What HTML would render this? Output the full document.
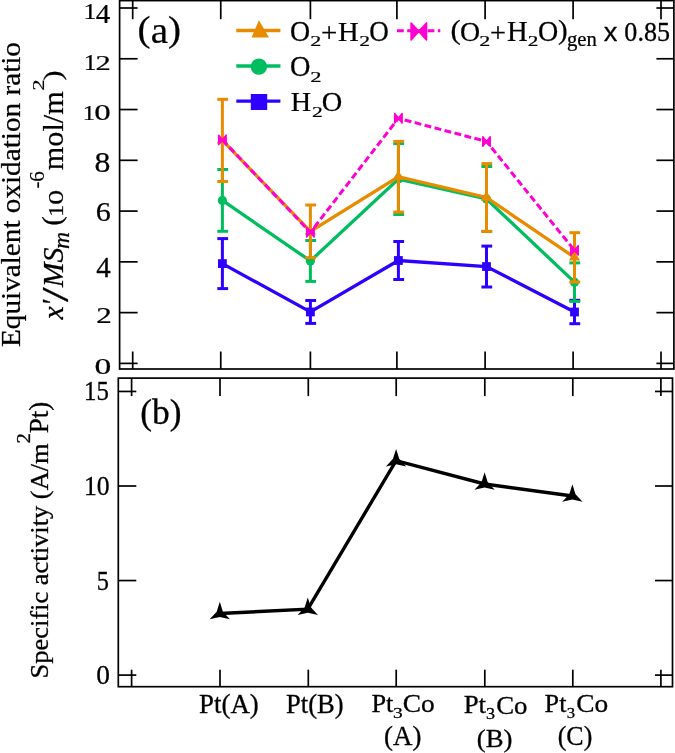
<!DOCTYPE html>
<html><head><meta charset="utf-8"><style>
html,body{margin:0;padding:0;background:#fff;}
body{width:675px;height:753px;overflow:hidden;position:relative;}
svg{position:absolute;left:0;top:0;will-change:transform;}
text{font-family:"Liberation Serif",serif;fill:#000;font-kerning:none;}
</style></head><body>
<svg width="675" height="753" viewBox="0 0 675 753">
<g stroke="#000" stroke-width="1.7" fill="none">
<rect x="119.6" y="0.6" width="554.3" height="368.4"/>
<line x1="119.6" y1="363.40" x2="137.6" y2="363.40"/>
<line x1="673.9" y1="363.40" x2="656.4" y2="363.40"/>
<line x1="119.6" y1="312.63" x2="137.6" y2="312.63"/>
<line x1="673.9" y1="312.63" x2="656.4" y2="312.63"/>
<line x1="119.6" y1="261.86" x2="137.6" y2="261.86"/>
<line x1="673.9" y1="261.86" x2="656.4" y2="261.86"/>
<line x1="119.6" y1="211.08" x2="137.6" y2="211.08"/>
<line x1="673.9" y1="211.08" x2="656.4" y2="211.08"/>
<line x1="119.6" y1="160.31" x2="137.6" y2="160.31"/>
<line x1="673.9" y1="160.31" x2="656.4" y2="160.31"/>
<line x1="119.6" y1="109.54" x2="137.6" y2="109.54"/>
<line x1="673.9" y1="109.54" x2="656.4" y2="109.54"/>
<line x1="119.6" y1="58.77" x2="137.6" y2="58.77"/>
<line x1="673.9" y1="58.77" x2="656.4" y2="58.77"/>
<line x1="119.6" y1="8.00" x2="137.6" y2="8.00"/>
<line x1="673.9" y1="8.00" x2="656.4" y2="8.00"/>
<line x1="132.7" y1="0.6" x2="132.7" y2="19.200000000000003"/>
<line x1="132.7" y1="369.0" x2="132.7" y2="351.5"/>
<line x1="220.75" y1="0.6" x2="220.75" y2="19.200000000000003"/>
<line x1="220.75" y1="369.0" x2="220.75" y2="351.5"/>
<line x1="310.4" y1="0.6" x2="310.4" y2="19.200000000000003"/>
<line x1="310.4" y1="369.0" x2="310.4" y2="351.5"/>
<line x1="396.9" y1="0.6" x2="396.9" y2="19.200000000000003"/>
<line x1="396.9" y1="369.0" x2="396.9" y2="351.5"/>
<line x1="485.1" y1="0.6" x2="485.1" y2="19.200000000000003"/>
<line x1="485.1" y1="369.0" x2="485.1" y2="351.5"/>
<line x1="573.1" y1="0.6" x2="573.1" y2="19.200000000000003"/>
<line x1="573.1" y1="369.0" x2="573.1" y2="351.5"/>
<line x1="661.0" y1="0.6" x2="661.0" y2="19.200000000000003"/>
<line x1="661.0" y1="369.0" x2="661.0" y2="351.5"/>
</g>
<g stroke="#2D00FF" stroke-width="3.0" fill="none">
<line x1="222.4" y1="238.6" x2="222.4" y2="288.6"/>
<line x1="217.3" y1="238.6" x2="228.10000000000002" y2="238.6"/>
<line x1="217.3" y1="288.6" x2="228.10000000000002" y2="288.6"/>
<line x1="310.4" y1="300.5" x2="310.4" y2="323.4"/>
<line x1="305.3" y1="300.5" x2="316.09999999999997" y2="300.5"/>
<line x1="305.3" y1="323.4" x2="316.09999999999997" y2="323.4"/>
<line x1="398.4" y1="241.5" x2="398.4" y2="279.5"/>
<line x1="393.3" y1="241.5" x2="404.09999999999997" y2="241.5"/>
<line x1="393.3" y1="279.5" x2="404.09999999999997" y2="279.5"/>
<line x1="486.5" y1="246.1" x2="486.5" y2="287.0"/>
<line x1="481.40000000000003" y1="246.1" x2="492.2" y2="246.1"/>
<line x1="481.40000000000003" y1="287.0" x2="492.2" y2="287.0"/>
<line x1="574.5" y1="300.3" x2="574.5" y2="323.7"/>
<line x1="569.4" y1="300.3" x2="580.1999999999999" y2="300.3"/>
<line x1="569.4" y1="323.7" x2="580.1999999999999" y2="323.7"/>
</g>
<polyline points="222.4,263.6 310.4,311.95 398.4,260.5 486.5,266.55 574.5,312.0" stroke-linejoin="miter" stroke="#2D00FF" stroke-width="3.3" fill="none"/>
<g fill="#2D00FF">
<rect x="218.00" y="259.20" width="8.8" height="8.8"/>
<rect x="306.00" y="307.55" width="8.8" height="8.8"/>
<rect x="394.00" y="256.10" width="8.8" height="8.8"/>
<rect x="482.10" y="262.15" width="8.8" height="8.8"/>
<rect x="570.10" y="307.60" width="8.8" height="8.8"/>
</g>
<g stroke="#00BE5F" stroke-width="3.0" fill="none">
<line x1="222.4" y1="169.5" x2="222.4" y2="231.3"/>
<line x1="217.3" y1="169.5" x2="228.10000000000002" y2="169.5"/>
<line x1="217.3" y1="231.3" x2="228.10000000000002" y2="231.3"/>
<line x1="310.4" y1="240.5" x2="310.4" y2="281.4"/>
<line x1="305.3" y1="240.5" x2="316.09999999999997" y2="240.5"/>
<line x1="305.3" y1="281.4" x2="316.09999999999997" y2="281.4"/>
<line x1="398.4" y1="143.6" x2="398.4" y2="214.5"/>
<line x1="393.3" y1="143.6" x2="404.09999999999997" y2="143.6"/>
<line x1="393.3" y1="214.5" x2="404.09999999999997" y2="214.5"/>
<line x1="486.5" y1="166.5" x2="486.5" y2="231.4"/>
<line x1="481.40000000000003" y1="166.5" x2="492.2" y2="166.5"/>
<line x1="481.40000000000003" y1="231.4" x2="492.2" y2="231.4"/>
<line x1="574.5" y1="262.9" x2="574.5" y2="301.4"/>
<line x1="569.4" y1="262.9" x2="580.1999999999999" y2="262.9"/>
<line x1="569.4" y1="301.4" x2="580.1999999999999" y2="301.4"/>
</g>
<polyline points="222.4,200.4 310.4,260.95 398.4,179.05 486.5,198.95 574.5,282.15" stroke-linejoin="miter" stroke="#00BE5F" stroke-width="3.3" fill="none"/>
<g fill="#00BE5F">
<circle cx="222.4" cy="200.4" r="4.6"/>
<circle cx="310.4" cy="260.95" r="4.6"/>
<circle cx="398.4" cy="179.05" r="4.6"/>
<circle cx="486.5" cy="198.95" r="4.6"/>
<circle cx="574.5" cy="282.15" r="4.6"/>
</g>
<g stroke="#E88B00" stroke-width="3.0" fill="none">
<line x1="222.4" y1="99.3" x2="222.4" y2="181.5"/>
<line x1="217.3" y1="99.3" x2="228.10000000000002" y2="99.3"/>
<line x1="217.3" y1="181.5" x2="228.10000000000002" y2="181.5"/>
<line x1="310.4" y1="205.0" x2="310.4" y2="257.7"/>
<line x1="305.3" y1="205.0" x2="316.09999999999997" y2="205.0"/>
<line x1="305.3" y1="257.7" x2="316.09999999999997" y2="257.7"/>
<line x1="398.4" y1="141.4" x2="398.4" y2="212.1"/>
<line x1="393.3" y1="141.4" x2="404.09999999999997" y2="141.4"/>
<line x1="393.3" y1="212.1" x2="404.09999999999997" y2="212.1"/>
<line x1="486.5" y1="163.6" x2="486.5" y2="231.4"/>
<line x1="481.40000000000003" y1="163.6" x2="492.2" y2="163.6"/>
<line x1="481.40000000000003" y1="231.4" x2="492.2" y2="231.4"/>
<line x1="574.5" y1="232.7" x2="574.5" y2="282.1"/>
<line x1="569.4" y1="232.7" x2="580.1999999999999" y2="232.7"/>
<line x1="569.4" y1="282.1" x2="580.1999999999999" y2="282.1"/>
</g>
<polyline points="222.4,140.4 310.4,231.35 398.4,176.75 486.5,197.5 574.5,257.4" stroke-linejoin="miter" stroke="#E88B00" stroke-width="3.3" fill="none"/>
<g fill="#E88B00">
<polygon points="216.80,143.60 228.00,143.60 222.40,134.00"/>
<polygon points="304.80,234.55 316.00,234.55 310.40,224.95"/>
<polygon points="392.80,179.95 404.00,179.95 398.40,170.35"/>
<polygon points="480.90,200.70 492.10,200.70 486.50,191.10"/>
<polygon points="568.90,260.60 580.10,260.60 574.50,251.00"/>
</g>
<polyline points="222.4,139.9 310.4,232.3 398.4,118.3 486.5,141.5 574.5,250.4" fill="none" stroke="#FF00D2" stroke-width="3" stroke-dasharray="6.9 3.4"/>
<g fill="#FF00D2" stroke="#FF00D2" stroke-width="1.6" stroke-linejoin="round"><polygon points="218.70,135.20 222.40,139.90 226.10,135.20 226.10,144.60 222.40,139.90 218.70,144.60"/><polygon points="306.70,227.60 310.40,232.30 314.10,227.60 314.10,237.00 310.40,232.30 306.70,237.00"/><polygon points="394.70,113.60 398.40,118.30 402.10,113.60 402.10,123.00 398.40,118.30 394.70,123.00"/><polygon points="482.80,136.80 486.50,141.50 490.20,136.80 490.20,146.20 486.50,141.50 482.80,146.20"/><polygon points="570.80,245.70 574.50,250.40 578.20,245.70 578.20,255.10 574.50,250.40 570.80,255.10"/></g>
<g stroke-width="3.3">
<line x1="236.3" y1="30.5" x2="280.4" y2="30.5" stroke="#E88B00"/>
<line x1="236.3" y1="66" x2="280.4" y2="66" stroke="#00BE5F"/>
<line x1="236.3" y1="101.1" x2="280.4" y2="101.1" stroke="#2D00FF"/>
<line x1="397" y1="30.75" x2="440.3" y2="30.75" stroke="#FF00D2" stroke-width="3" stroke-dasharray="6.8 3.4"/>
</g>
<polygon fill="#E88B00" points="251.5,37.5 269,37.5 258.9,20.3"/>
<circle fill="#00BE5F" cx="258.9" cy="66.6" r="8.2"/>
<rect fill="#2D00FF" x="250.8" y="94" width="16.4" height="16"/>
<g fill="#FF00D2" stroke="#FF00D2" stroke-width="1.6" stroke-linejoin="round"><polygon points="411.10,22.95 418.80,31.40 426.50,22.95 426.50,39.85 418.80,31.40 411.10,39.85"/></g>
<g stroke="#000" stroke-width="1.7" fill="none">
<rect x="118.3" y="378.1" width="554.2" height="308.6"/>
<line x1="118.3" y1="675.10" x2="136.3" y2="675.10"/>
<line x1="672.5" y1="675.10" x2="655.0" y2="675.10"/>
<line x1="118.3" y1="580.55" x2="136.3" y2="580.55"/>
<line x1="672.5" y1="580.55" x2="655.0" y2="580.55"/>
<line x1="118.3" y1="486.00" x2="136.3" y2="486.00"/>
<line x1="672.5" y1="486.00" x2="655.0" y2="486.00"/>
<line x1="118.3" y1="391.45" x2="136.3" y2="391.45"/>
<line x1="672.5" y1="391.45" x2="655.0" y2="391.45"/>
<line x1="131.6" y1="378.1" x2="131.6" y2="396.1"/>
<line x1="131.6" y1="686.7" x2="131.6" y2="669.7"/>
<line x1="220.0" y1="378.1" x2="220.0" y2="396.1"/>
<line x1="220.0" y1="686.7" x2="220.0" y2="669.7"/>
<line x1="308.3" y1="378.1" x2="308.3" y2="396.1"/>
<line x1="308.3" y1="686.7" x2="308.3" y2="669.7"/>
<line x1="396.2" y1="378.1" x2="396.2" y2="396.1"/>
<line x1="396.2" y1="686.7" x2="396.2" y2="669.7"/>
<line x1="484.8" y1="378.1" x2="484.8" y2="396.1"/>
<line x1="484.8" y1="686.7" x2="484.8" y2="669.7"/>
<line x1="572.8" y1="378.1" x2="572.8" y2="396.1"/>
<line x1="572.8" y1="686.7" x2="572.8" y2="669.7"/>
<line x1="660.9" y1="378.1" x2="660.9" y2="396.1"/>
<line x1="660.9" y1="686.7" x2="660.9" y2="669.7"/>
</g>
<polyline fill="none" stroke="#000" stroke-width="3.4" points="219.8,613.5 307.8,609.1 396.1,460.6 484.6,484.0 572.4,496.0"/>
<g fill="#000"><polygon points="219.80,601.80 222.92,611.70 229.93,619.35 219.80,617.10 209.67,619.35 216.68,611.70"/><polygon points="307.80,597.40 310.92,607.30 317.93,614.95 307.80,612.70 297.67,614.95 304.68,607.30"/><polygon points="396.10,448.90 399.22,458.80 406.23,466.45 396.10,464.20 385.97,466.45 392.98,458.80"/><polygon points="484.60,472.30 487.72,482.20 494.73,489.85 484.60,487.60 474.47,489.85 481.48,482.20"/><polygon points="572.40,484.30 575.52,494.20 582.53,501.85 572.40,499.60 562.27,501.85 569.28,494.20"/></g>
<text transform="translate(83.566,18.575) scale(0.25707,0.22040)" style="font-family:'Liberation Serif',serif" font-size="100"  stroke="#000" stroke-width="1.050">1</text>
<text transform="translate(95.660,22.675) scale(0.28934,0.28335)" style="font-family:'Liberation Serif',serif" font-size="100"  stroke="#000" stroke-width="0.873">4</text>
<text transform="translate(83.691,69.875) scale(0.25422,0.22040)" style="font-family:'Liberation Serif',serif" font-size="100"  stroke="#000" stroke-width="1.056">1</text>
<text transform="translate(95.582,69.875) scale(0.30558,0.21975)" style="font-family:'Liberation Serif',serif" font-size="100"  stroke="#000" stroke-width="0.965">2</text>
<text transform="translate(82.665,119.675) scale(0.24570,0.21737)" style="font-family:'Liberation Serif',serif" font-size="100"  stroke="#000" stroke-width="1.082">1</text>
<text transform="translate(94.171,120.354) scale(0.32914,0.22599)" style="font-family:'Liberation Serif',serif" font-size="100"  stroke="#000" stroke-width="0.917">0</text>
<text transform="translate(94.516,171.885) scale(0.31735,0.29712)" style="font-family:'Liberation Serif',serif" font-size="100"  stroke="#000" stroke-width="0.814">8</text>
<text transform="translate(95.633,221.000) scale(0.30076,0.28205)" style="font-family:'Liberation Serif',serif" font-size="100"  stroke="#000" stroke-width="0.858">6</text>
<text transform="translate(96.260,277.075) scale(0.28934,0.29094)" style="font-family:'Liberation Serif',serif" font-size="100"  stroke="#000" stroke-width="0.862">4</text>
<text transform="translate(96.160,322.675) scale(0.31057,0.22277)" style="font-family:'Liberation Serif',serif" font-size="100"  stroke="#000" stroke-width="0.950">2</text>
<text transform="translate(94.444,374.257) scale(0.33622,0.22303)" style="font-family:'Liberation Serif',serif" font-size="100"  stroke="#000" stroke-width="0.913">0</text>
<text transform="translate(83.965,400.292) scale(0.24855,0.26421)" style="font-family:'Liberation Serif',serif" font-size="100"  stroke="#000" stroke-width="1.171">15</text>
<text transform="translate(83.887,494.684) scale(0.25743,0.27267)" style="font-family:'Liberation Serif',serif" font-size="100"  stroke="#000" stroke-width="1.132">10</text>
<text transform="translate(96.636,589.988) scale(0.24328,0.26785)" style="font-family:'Liberation Serif',serif" font-size="100"  stroke="#000" stroke-width="1.175">5</text>
<text transform="translate(96.208,684.185) scale(0.27370,0.27119)" style="font-family:'Liberation Serif',serif" font-size="100"  stroke="#000" stroke-width="1.101">0</text>
<text transform="translate(137.505,41.374) scale(0.39130,0.35236)" style="font-family:'Liberation Serif',serif" font-size="100"  stroke="#000" stroke-width="0.673">(</text>
<text transform="translate(150.650,43.401) scale(0.39112,0.38309)" style="font-family:'Liberation Serif',serif" font-size="100"  stroke="#000" stroke-width="0.646">a</text>
<text transform="translate(167.964,41.374) scale(0.39130,0.35236)" style="font-family:'Liberation Serif',serif" font-size="100"  stroke="#000" stroke-width="0.673">)</text>
<text transform="translate(140.293,424.072) scale(0.35432,0.36063)" style="font-family:'Liberation Serif',serif" font-size="100"  stroke="#000" stroke-width="0.839">(b)</text>
<text transform="translate(289.981,40.689) scale(0.27885,0.29247)" style="font-family:'Liberation Serif',serif" font-size="100"  stroke="#000" stroke-width="0.875">O</text>
<text transform="translate(310.355,46.275) scale(0.22076,0.15330)" style="font-family:'Liberation Serif',serif" font-size="100"  stroke="#000" stroke-width="1.359">2</text>
<text transform="translate(320.985,42.288) scale(0.28904,0.27371)" style="font-family:'Liberation Serif',serif" font-size="100"  stroke="#000" stroke-width="0.889">+</text>
<text transform="translate(337.999,40.575) scale(0.28687,0.28177)" style="font-family:'Liberation Serif',serif" font-size="100"  stroke="#000" stroke-width="0.879">H</text>
<text transform="translate(359.177,45.975) scale(0.21578,0.14877)" style="font-family:'Liberation Serif',serif" font-size="100"  stroke="#000" stroke-width="1.395">2</text>
<text transform="translate(369.313,40.689) scale(0.27104,0.29247)" style="font-family:'Liberation Serif',serif" font-size="100"  stroke="#000" stroke-width="0.888">O</text>
<text transform="translate(289.962,76.092) scale(0.28353,0.28949)" style="font-family:'Liberation Serif',serif" font-size="100"  stroke="#000" stroke-width="0.873">O</text>
<text transform="translate(310.233,81.775) scale(0.22575,0.15481)" style="font-family:'Liberation Serif',serif" font-size="100"  stroke="#000" stroke-width="1.337">2</text>
<text transform="translate(290.812,110.675) scale(0.28235,0.27872)" style="font-family:'Liberation Serif',serif" font-size="100"  stroke="#000" stroke-width="0.891">H</text>
<text transform="translate(312.077,116.575) scale(0.21578,0.15481)" style="font-family:'Liberation Serif',serif" font-size="100"  stroke="#000" stroke-width="1.368">2</text>
<text transform="translate(321.862,110.898) scale(0.28353,0.28353)" style="font-family:'Liberation Serif',serif" font-size="100"  stroke="#000" stroke-width="0.882">O</text>
<text transform="translate(450.465,39.205) scale(0.30954,0.26634)" style="font-family:'Liberation Serif',serif" font-size="100"  stroke="#000" stroke-width="0.871">(</text>
<text transform="translate(459.981,40.500) scale(0.27885,0.28205)" style="font-family:'Liberation Serif',serif" font-size="100"  stroke="#000" stroke-width="0.891">O</text>
<text transform="translate(479.155,46.375) scale(0.22076,0.13668)" style="font-family:'Liberation Serif',serif" font-size="100"  stroke="#000" stroke-width="1.439">2</text>
<text transform="translate(490.018,42.452) scale(0.28259,0.28015)" style="font-family:'Liberation Serif',serif" font-size="100"  stroke="#000" stroke-width="0.889">+</text>
<text transform="translate(506.899,40.775) scale(0.28687,0.28483)" style="font-family:'Liberation Serif',serif" font-size="100"  stroke="#000" stroke-width="0.875">H</text>
<text transform="translate(527.788,46.275) scale(0.21328,0.13819)" style="font-family:'Liberation Serif',serif" font-size="100"  stroke="#000" stroke-width="1.456">2</text>
<text transform="translate(537.975,40.891) scale(0.28041,0.29098)" style="font-family:'Liberation Serif',serif" font-size="100"  stroke="#000" stroke-width="0.875">O</text>
<text transform="translate(557.990,38.828) scale(0.29007,0.26524)" style="font-family:'Liberation Serif',serif" font-size="100"  stroke="#000" stroke-width="0.901">)</text>
<text transform="translate(566.934,46.138) scale(0.20747,0.20096)" style="font-family:'Liberation Serif',serif" font-size="100"  stroke="#000" stroke-width="1.224">gen</text>
<text transform="translate(603.745,40.650) scale(0.27195,0.26310)" style="font-family:'Liberation Sans',sans-serif" font-size="100"  stroke="#000" stroke-width="1.122">x</text>
<text transform="translate(624.357,40.566) scale(0.26063,0.27091)" style="font-family:'Liberation Serif',serif" font-size="100"  stroke="#000" stroke-width="1.129">0.85</text>
<text transform="translate(19.900,347.042) rotate(-90) scale(0.29214,0.28000)" style="font-family:'Liberation Serif',serif" font-size="100"  stroke="#000" stroke-width="0.874">Equivalent oxidation ratio</text>
<text transform="translate(62.875,319.509) rotate(-90) scale(0.29973,0.29957)" style="font-family:'Liberation Serif',serif;font-style:italic" font-size="100"  stroke="#000" stroke-width="0.834">x</text>
<text transform="translate(62.480,304.291) rotate(-90) scale(0.28722,0.30017)" style="font-family:'Liberation Serif',serif" font-size="100"  stroke="#000" stroke-width="0.851">′</text>
<text transform="translate(67.509,301.875) rotate(-90) scale(0.53090,0.37447)" style="font-family:'Liberation Serif',serif" font-size="100"  stroke="#000" stroke-width="0.561">/</text>
<text transform="translate(62.589,287.226) rotate(-90) scale(0.29768,0.29247)" style="font-family:'Liberation Serif',serif;font-style:italic" font-size="100"  stroke="#000" stroke-width="0.847">MS</text>
<text transform="translate(68.875,249.031) rotate(-90) scale(0.23679,0.22178)" style="font-family:'Liberation Serif',serif;font-style:italic" font-size="100"  stroke="#000" stroke-width="1.091">m</text>
<text transform="translate(61.228,225.850) rotate(-90) scale(0.29007,0.26524)" style="font-family:'Liberation Serif',serif" font-size="100"  stroke="#000" stroke-width="0.901">(</text>
<text transform="translate(62.875,217.059) rotate(-90) scale(0.24854,0.21889)" style="font-family:'Liberation Serif',serif" font-size="100"  stroke="#000" stroke-width="1.072">1</text>
<text transform="translate(62.662,205.039) rotate(-90) scale(0.30555,0.21858)" style="font-family:'Liberation Serif',serif" font-size="100"  stroke="#000" stroke-width="0.967">0</text>
<text transform="translate(43.138,188.604) rotate(-90) scale(0.20980,0.20748)" style="font-family:'Liberation Serif',serif" font-size="100"  stroke="#000" stroke-width="0.719">-</text>
<text transform="translate(43.621,181.625) rotate(-90) scale(0.20948,0.20912)" style="font-family:'Liberation Serif',serif" font-size="100"  stroke="#000" stroke-width="0.717">6</text>
<text transform="translate(62.700,170.134) rotate(-90) scale(0.30217,0.29400)" style="font-family:'Liberation Serif',serif" font-size="100"  stroke="#000" stroke-width="0.839">mol/m</text>
<text transform="translate(43.925,90.639) rotate(-90) scale(0.23074,0.16387)" style="font-family:'Liberation Serif',serif" font-size="100"  stroke="#000" stroke-width="0.771">2</text>
<text transform="translate(60.999,80.547) rotate(-90) scale(0.30175,0.26193)" style="font-family:'Liberation Serif',serif" font-size="100"  stroke="#000" stroke-width="0.889">)</text>
<text transform="translate(48.043,678.522) rotate(-90) scale(0.26489,0.25980)" style="font-family:'Liberation Serif',serif" font-size="100"  stroke="#000" stroke-width="1.144">Specific activity (A/m</text>
<text transform="translate(30.350,443.571) rotate(-90) scale(0.20954,0.19785)" style="font-family:'Liberation Serif',serif" font-size="100"  stroke="#000" stroke-width="1.473">2</text>
<text transform="translate(48.039,433.332) rotate(-90) scale(0.27142,0.26358)" style="font-family:'Liberation Serif',serif" font-size="100"  stroke="#000" stroke-width="1.122">Pt)</text>
<text transform="translate(199.077,713.215) scale(0.26845,0.26468)" style="font-family:'Liberation Serif',serif" font-size="100"  stroke="#000" stroke-width="1.125">Pt(A)</text>
<text transform="translate(286.084,713.445) scale(0.26597,0.26799)" style="font-family:'Liberation Serif',serif" font-size="100"  stroke="#000" stroke-width="1.124">Pt(B)</text>
<text transform="translate(371.493,711.910) scale(0.26272,0.24528)" style="font-family:'Liberation Serif',serif" font-size="100"  stroke="#000" stroke-width="1.182">Pt</text>
<text transform="translate(393.123,717.506) scale(0.19366,0.14735)" style="font-family:'Liberation Serif',serif" font-size="100"  stroke="#000" stroke-width="1.776">3</text>
<text transform="translate(402.826,712.406) scale(0.27392,0.25005)" style="font-family:'Liberation Serif',serif" font-size="100"  stroke="#000" stroke-width="1.146">Co</text>
<text transform="translate(384.067,745.392) scale(0.26917,0.26579)" style="font-family:'Liberation Serif',serif" font-size="100"  stroke="#000" stroke-width="1.122">(A)</text>
<text transform="translate(463.675,713.206) scale(0.26898,0.24979)" style="font-family:'Liberation Serif',serif" font-size="100"  stroke="#000" stroke-width="1.157">Pt</text>
<text transform="translate(485.881,719.296) scale(0.18156,0.15777)" style="font-family:'Liberation Serif',serif" font-size="100"  stroke="#000" stroke-width="1.773">3</text>
<text transform="translate(496.149,713.696) scale(0.26841,0.26047)" style="font-family:'Liberation Serif',serif" font-size="100"  stroke="#000" stroke-width="1.135">Co</text>
<text transform="translate(476.771,746.650) scale(0.26825,0.25366)" style="font-family:'Liberation Serif',serif" font-size="100"  stroke="#000" stroke-width="1.150">(B)</text>
<text transform="translate(544.597,711.903) scale(0.26147,0.25280)" style="font-family:'Liberation Serif',serif" font-size="100"  stroke="#000" stroke-width="1.167">Pt</text>
<text transform="translate(566.851,717.710) scale(0.16704,0.14288)" style="font-family:'Liberation Serif',serif" font-size="100"  stroke="#000" stroke-width="1.942">3</text>
<text transform="translate(576.326,712.399) scale(0.27392,0.25749)" style="font-family:'Liberation Serif',serif" font-size="100"  stroke="#000" stroke-width="1.130">Co</text>
<text transform="translate(557.710,745.392) scale(0.25941,0.26579)" style="font-family:'Liberation Serif',serif" font-size="100"  stroke="#000" stroke-width="1.143">(C)</text>
</svg>
</body></html>
